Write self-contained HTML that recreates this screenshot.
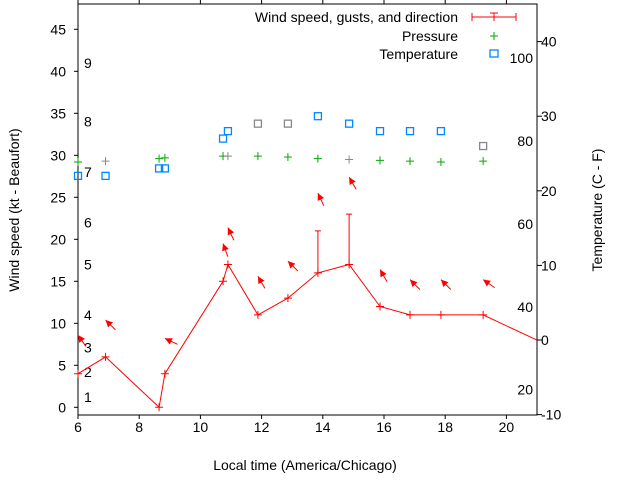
<!DOCTYPE html>
<html><head><meta charset="utf-8">
<style>
html,body{margin:0;padding:0;background:#fff;}
svg{display:block;font-family:"Liberation Sans",sans-serif;}
</style></head>
<body>
<svg id="chart" width="640" height="480" viewBox="0 0 640 480" xmlns="http://www.w3.org/2000/svg">
<rect x="0" y="0" width="640" height="480" fill="#fff"/>
<g id="axes"></g>
<g id="beaufort"></g>
<g id="series"></g>
<g id="legend" font-size="14" fill="#000">
  <text x="458" y="22" text-anchor="end">Wind speed, gusts, and direction</text>
  <line x1="472" y1="17" x2="516" y2="17" stroke="#f00"/>
  <line x1="472" y1="13" x2="472" y2="21" stroke="#f00"/>
  <line x1="516" y1="13" x2="516" y2="21" stroke="#f00"/>
  <line x1="490" y1="13" x2="498" y2="13" stroke="#f00"/>
  <line x1="494" y1="13" x2="494" y2="21" stroke="#f00"/>
  <text x="458" y="41" text-anchor="end">Pressure</text>
  <path d="M490 36h8M494 32v8" stroke="#0a0" fill="none"/>
  <text x="458" y="59" text-anchor="end">Temperature</text>
  <rect x="490" y="50" width="8" height="7" fill="none" stroke="#08f" stroke-width="1.3"/>
</g>
<text x="305" y="470" font-size="14" text-anchor="middle">Local time (America/Chicago)</text>
<text transform="translate(19,210) rotate(-90)" font-size="14" text-anchor="middle">Wind speed (kt - Beaufort)</text>
<text transform="translate(602,210) rotate(-90)" font-size="14" text-anchor="middle">Temperature (C - F)</text>
</svg>
<script>
const times = [6.0, 6.9, 8.65, 8.84, 10.74, 10.9, 11.88, 12.86, 13.84, 14.86, 15.87, 16.85, 17.86, 19.24];
const windSpeed = [4, 6, 0, 4, 15, 17, 11, 13, 16, 17, 12, 11, 11, 11];
const windTail = {t: 21, v: 8};
const gustTimes = [13.84, 14.86];
const gustValues = [21, 23];
const arrowTimes = [6.0, 6.9, 8.84, 10.74, 10.9, 11.88, 12.86, 13.84, 14.86, 15.87, 16.85, 17.86, 19.24];
const arrowLevel = [8.6, 10.4, 8.2, 19.5, 21.4, 15.6, 17.4, 25.5, 27.4, 16.4, 15.2, 15.2, 15.2];
const arrowDir = [145, 135, 115, 160, 155, 150, 135, 155, 150, 150, 135, 135, 125];
const pressure = [29.2, 29.3, 29.6, 29.7, 29.9, 29.9, 29.9, 29.8, 29.6, 29.5, 29.4, 29.3, 29.2, 29.3];
const pressureGray = [false, true, false, false, false, true, false, false, false, true, false, false, false, false];
const tempC = [22, 22, 23, 23, 27, 28, 29, 29, 30, 29, 28, 28, 28, 26];
const tempGray = [false, false, false, false, false, false, true, true, false, false, false, false, false, true];
const xTicks = [6, 8, 10, 12, 14, 16, 18, 20];
const yTicks = [0, 5, 10, 15, 20, 25, 30, 35, 40, 45];
const y2Ticks = [-10, 0, 10, 20, 30, 40];
const fTicks = [20, 40, 60, 80, 100];
const beaufortLabels = [1, 2, 3, 4, 5, 6, 7, 8, 9];
const beaufortKt = [1.2, 4.2, 7.1, 11, 17, 22, 28, 34, 41];

const L = 78, R = 537, T = 4, B = 415;
const X = t => L + (t - 6) * 30.6;
const Y = v => 407.3 - v * 8.4;
const Y2 = c => 340 - c * 7.46;
const YF = f => Y2((f - 32) * 5 / 9);
const NS = 'http://www.w3.org/2000/svg';
function mk(parent, tag, attrs, text) {
  const e = document.createElementNS(NS, tag);
  for (const k in attrs) e.setAttribute(k, attrs[k]);
  if (text !== undefined) e.textContent = text;
  parent.appendChild(e);
  return e;
}
const axes = document.getElementById('axes');
const frame = mk(axes, 'rect', {x: L, y: T, width: R - L, height: B - T, fill: 'none', stroke: '#000', 'stroke-width': 1});


xTicks.forEach(t => {
  const x = X(t);
  mk(axes, 'line', {x1: x, y1: B, x2: x, y2: B + 4, stroke: '#000'});
  mk(axes, 'line', {x1: x, y1: T, x2: x, y2: T - 4, stroke: '#000'});
  const lb = mk(axes, 'text', {x: x, y: B + 17, 'font-size': 14, 'text-anchor': 'middle'}, String(t));
  
  
});
yTicks.forEach(v => {
  const y = Y(v);
  mk(axes, 'line', {x1: L - 4, y1: y, x2: L, y2: y, stroke: '#000'});
  const lb = mk(axes, 'text', {x: 66, y: y + 5, 'font-size': 14, 'text-anchor': 'end'}, String(v));
  
  
});
y2Ticks.forEach(c => {
  const y = Y2(c);
  mk(axes, 'line', {x1: R, y1: y, x2: R + 5, y2: y, stroke: '#000'});
  const lb = mk(axes, 'text', {x: 541, y: y + 5, 'font-size': 14}, String(c));
  
  
});
fTicks.forEach(f => {
  const lb = mk(axes, 'text', {x: 533, y: YF(f) + 5, 'font-size': 14, 'text-anchor': 'end'}, String(f));
  
  
});
const bg = document.getElementById('beaufort');
beaufortLabels.forEach((b, i) => {
  const lb = mk(bg, 'text', {x: 84, y: Y(beaufortKt[i]) + 5, 'font-size': 14}, String(b));
  
  
});

const s = document.getElementById('series');
times.forEach((t, i) => {
  const r = mk(s, 'rect', {x: X(t) - 3.5, y: Y2(tempC[i]) - 3.5, width: 7, height: 7, fill: 'none', stroke: tempGray[i] ? '#888' : '#08f', 'stroke-width': 1.3});
  
  
});
times.forEach((t, i) => {
  const x = X(t), y = Y(pressure[i]);
  const p = mk(s, 'path', {d: `M${x-4} ${y}h8M${x} ${y-4}v8`, stroke: pressureGray[i] ? '#888' : '#0a0', fill: 'none'});
  
  
});
let d = times.map((t, i) => (i ? 'L' : 'M') + X(t) + ' ' + Y(windSpeed[i])).join('') + `L${X(windTail.t)} ${Y(windTail.v)}`;
const wl = mk(s, 'path', {d: d, stroke: '#f00', fill: 'none', 'stroke-width': 1});


times.forEach((t, i) => {
  const x = X(t), y = Y(windSpeed[i]);
  const p = mk(s, 'path', {d: `M${x-4} ${y}h8M${x} ${y-4}v8`, stroke: '#f00', fill: 'none'});
  
  
});
gustTimes.forEach((t, i) => {
  const x = X(t), ti = times.indexOf(t);
  const y0 = Y(windSpeed[ti]), y1 = Y(gustValues[i]);
  const g = mk(s, 'path', {d: `M${x} ${y0}V${y1}M${x-3} ${y1}h6`, stroke: '#f00', fill: 'none'});
  
  
});
arrowTimes.forEach((t, i) => {
  const hx = X(t), hy = Y(arrowLevel[i]);
  const a = arrowDir[i] * Math.PI / 180;
  const len = 14;
  const tx = hx + Math.sin(a) * len, ty = hy - Math.cos(a) * len;
  const ux = (hx - tx) / len, uy = (hy - ty) / len;
  const bx = hx - ux * 7, by = hy - uy * 7;
  const g = mk(s, 'g', {});
  
  
  mk(g, 'line', {x1: tx, y1: ty, x2: hx, y2: hy, stroke: '#f00'});
  mk(g, 'polygon', {points: `${hx},${hy} ${bx - uy * 3.5},${by + ux * 3.5} ${bx + uy * 3.5},${by - ux * 3.5}`, fill: '#f00'});
});
</script>
</body></html>
